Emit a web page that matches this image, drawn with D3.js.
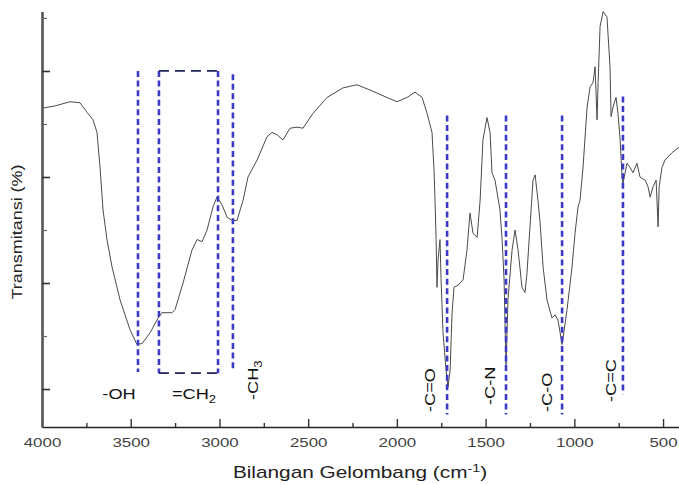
<!DOCTYPE html>
<html><head><meta charset="utf-8">
<script src="https://cdn.jsdelivr.net/npm/d3@7"></script>
<style>
body{margin:0;background:#fff}
svg{display:block}
text{font-family:"Liberation Sans",Arial,sans-serif}
</style>
</head><body>
<svg id="chart" width="679" height="485"></svg>
<script>
// ---- data ----
const wavenumbers = [3994,3927,3842,3786,3746,3713,3690,3673,3656,3634,
3605,3560,3504,3465,3436,3391,3346,3324,3267,3250,
3205,3155,3126,3098,3070,3036,3014,2986,2957,2929,
2901,2867,2839,2788,2732,2704,2676,2642,2602,2563,
2529,2473,2394,2304,2225,2151,2056,1999,1943,1898,
1858,1830,1802,1791,1785,1779,1774,1768,1757,1751,
1740,1723,1712,1700,1689,1678,1655,1627,1605,1588,
1571,1548,1531,1515,1492,1475,1464,1447,1419,1407,
1396,1385,1374,1351,1334,1317,1295,1278,1267,1250,
1233,1221,1205,1193,1176,1154,1126,1109,1092,1069,
1041,1013,996,979,968,951,928,911,895,883,
872,866,855,838,816,799,793,782,765,754,
742,731,726,703,686,669,647,630,601,585,
573,556,539,528,522,506,489,449,410];
const transmittance = [36.5,36.7,37.1,37.0,36.1,35.4,34.2,30.9,26.9,24.1,
21.5,18.4,15.6,14.2,14.3,15.3,16.7,17.2,17.2,17.5,
20.0,23.1,24.1,23.9,25.0,27.2,28.1,27.4,26.2,25.9,
25.9,27.8,30.0,31.6,33.8,34.2,34.0,33.5,34.6,34.7,
34.6,36.0,37.5,38.4,38.7,38.2,37.5,37.1,37.5,38.0,
37.5,36.0,34.2,30.7,27.8,24.1,19.6,22.2,24.1,20.3,
15.3,11.8,10.2,11.8,17.2,19.6,19.8,20.3,23.1,26.6,
24.7,24.3,27.8,33.5,35.6,34.2,30.4,29.7,26.9,24.1,
20.3,12.3,18.4,23.1,25.0,23.1,19.6,19.1,20.9,25.3,
29.7,30.2,27.8,25.7,21.5,18.4,16.7,17.0,16.5,14.2,
17.5,21.5,24.7,27.2,27.8,30.9,36.6,38.5,38.9,40.4,
35.4,38.9,44.2,45.6,45.1,40.4,35.7,36.6,37.5,36.0,
33.5,30.0,29.4,31.3,30.9,30.4,31.3,30.0,29.7,29.1,
28.1,29.1,29.7,25.3,29.1,30.9,31.6,32.3,32.8];

const xMajorTicks = [4000,3500,3000,2500,2000,1500,1000,500];
const xMinorTicks = [3750,3250,2750,2250,1750,1250,750];
const yMajorTicks = [10,20,30,40];
const yMinorTicks = [15,25,35,45];

const xTitle = "Bilangan Gelombang (cm";
const xTitleSup = "-1";
const yTitle = "Transmitansi (%)";

// single band markers (dashed vertical lines)
const bandNames     = ["-OH","-CH","-C=O","-C-N","-C-O","-C=C"];
const bandSubs      = ["","3","","","",""];
const bandWave      = [3459, 2924, 1717, 1385, 1069, 726];
const bandTop       = [40.0, 39.7, 35.8, 35.8, 35.8, 37.6];
const bandBottom    = [11.6, 11.8, 7.6, 7.6, 7.6, 9.5];

// =CH2 box
const boxName = "=CH";
const boxSub = "2";
const boxWave = [3341, 3008];
const boxT = [40.0, 11.5];

// ---- layout ----
const svg = d3.select("#chart");
const x = d3.scaleLinear().domain([4000, 400]).range([42, 680.8]);
const y = d3.scaleLinear().domain([6.4, 45.6]).range([427.2, 11.6]);
const S = 1.3; // horizontal stretch of glyphs

// curve
const line = d3.line().x((d,i)=>x(wavenumbers[i])).y((d,i)=>y(transmittance[i]));
svg.append("path").datum(transmittance).attr("d", line)
  .attr("fill","none").attr("stroke","#4a4a4a").attr("stroke-width",1);

// dashed band lines
const blue = "#3a3ac4";
const bandG = svg.append("g");
bandWave.forEach((w,i)=>{
  bandG.append("line").attr("x1",x(w)).attr("x2",x(w))
    .attr("y1",y(bandTop[i])).attr("y2",y(bandBottom[i]))
    .attr("stroke",blue).attr("stroke-width",2.6).attr("stroke-dasharray","6,3.6");
});
boxWave.forEach(w=>{
  bandG.append("line").attr("x1",x(w)).attr("x2",x(w))
    .attr("y1",y(boxT[0])).attr("y2",y(boxT[1]))
    .attr("stroke",blue).attr("stroke-width",2.6).attr("stroke-dasharray","6,3.6");
});
boxT.forEach(t=>{
  bandG.append("line").attr("x1",x(boxWave[0])).attr("x2",x(boxWave[1]))
    .attr("y1",y(t)).attr("y2",y(t))
    .attr("stroke","#22225e").attr("stroke-width",1.8).attr("stroke-dasharray","10,6");
});

// labels
function label(txt, sub, px, py, rot, anchor){
  const t = svg.append("text")
    .attr("transform",`translate(${px},${py}) rotate(${rot}) scale(${S},1)`)
    .attr("text-anchor",anchor).attr("font-size",14).attr("fill","#111");
  t.append("tspan").text(txt);
  if(sub) t.append("tspan").attr("font-size",10).attr("dy",4).text(sub);
  return t;
}
// horizontal -OH
label(bandNames[0],"", x(bandWave[0])-19, 399, 0, "middle");
// =CH2 box label
label(boxName, boxSub, x(boxWave[0])+13, 399, 0, "start");
// rotated labels
const rotOff = [null, 25, -12, -11, -10, -7];
const rotStart = [null, 400, 412, 405, 412, 402];
for(let i=1;i<bandNames.length;i++){
  label(bandNames[i], bandSubs[i], x(bandWave[i])+rotOff[i], rotStart[i], -90, "start");
}

// axes
const axisColor = "#333";
const gx = svg.append("g").attr("transform","translate(0,427)");
gx.call(d3.axisBottom(x).tickValues(xMajorTicks).tickFormat(d3.format("d"))
  .tickSize(-8).tickSizeOuter(0).tickPadding(11));
gx.select(".domain").attr("stroke","#222").attr("stroke-width",1.6);
gx.selectAll(".tick line").attr("stroke",axisColor).attr("stroke-width",1.4);
gx.selectAll(".tick text").attr("font-size",13).attr("fill","#444")
  .attr("font-family",'"Liberation Sans",Arial,sans-serif')
  .attr("transform",`scale(${S},1)`);
const gxm = svg.append("g").attr("transform","translate(0,427)");
gxm.call(d3.axisBottom(x).tickValues(xMinorTicks).tickSize(-4).tickSizeOuter(0).tickFormat(""));
gxm.select(".domain").remove();
gxm.selectAll(".tick line").attr("stroke",axisColor).attr("stroke-width",1.4);

const gy = svg.append("g").attr("transform","translate(42,0)");
gy.call(d3.axisLeft(y).tickValues(yMajorTicks).tickSize(-8).tickSizeOuter(0).tickFormat(""));
gy.select(".domain").attr("stroke","#555").attr("stroke-width",2.6);
gy.selectAll(".tick line").attr("stroke",axisColor).attr("stroke-width",1.6);
const gym = svg.append("g").attr("transform","translate(42,0)");
gym.call(d3.axisLeft(y).tickValues(yMinorTicks).tickSize(-5).tickSizeOuter(0).tickFormat(""));
gym.select(".domain").remove();
gym.selectAll(".tick line").attr("stroke","#666").attr("stroke-width",1.2);

// titles
const xt = svg.append("text")
  .attr("transform",`translate(360,478) scale(${S},1)`)
  .attr("text-anchor","middle").attr("font-size",16).attr("fill","#222");
xt.append("tspan").text(xTitle);
xt.append("tspan").attr("font-size",11).attr("dy",-6).text(xTitleSup);
xt.append("tspan").attr("dy",6).text(")");

svg.append("text")
  .attr("transform",`translate(22,232) rotate(-90) scale(1.2,1)`)
  .attr("text-anchor","middle").attr("font-size",15).attr("fill","#222")
  .text(yTitle);
</script>
</body></html>
